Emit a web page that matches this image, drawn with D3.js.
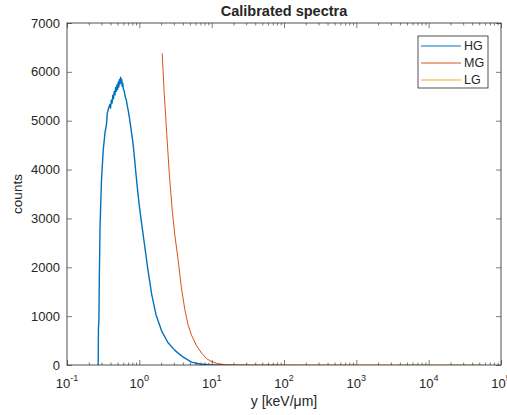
<!DOCTYPE html>
<html lang="en">
<head>
    <meta charset="UTF-8">
    <title>Calibrated spectra</title>
    <script src="https://cdn.jsdelivr.net/npm/d3@7"></script>
    <style>
        body { margin: 0; background: #fff; }
        text { font-family: "Liberation Sans", Arial, sans-serif; fill: #262626; }
    </style>
</head>
<body>
<script>
    // lineal energy (keV/um) and counts per channel
    const hgY = [0.270, 0.272, 0.276, 0.280, 0.286, 0.293, 0.300, 0.317, 0.335, 0.353, 0.360, 0.375,
        0.390, 0.400, 0.410, 0.420, 0.430, 0.440, 0.450, 0.460, 0.470, 0.480, 0.490, 0.500, 0.510,
        0.520, 0.530, 0.540, 0.550, 0.560, 0.570, 0.580, 0.590, 0.600, 0.620, 0.640, 0.660, 0.680,
        0.700, 0.730, 0.760, 0.790, 0.820, 0.850, 0.900, 0.950, 1.00, 1.08, 1.19, 1.30, 1.48, 1.70,
        2.03, 2.48, 3.10, 4.00, 5.27, 6.90, 9.00, 12.0, 15.0]
    const hgCounts = [0, 750, 900, 1800, 2800, 3300, 3800, 4400, 4750, 4950, 5150, 5250,
        5330, 5260, 5420, 5360, 5520, 5450, 5600, 5530, 5680, 5600, 5730, 5640, 5790,
        5690, 5840, 5750, 5890, 5780, 5850, 5700, 5770, 5660, 5600, 5480, 5430, 5310,
        5220, 5060, 4880, 4700, 4520, 4290, 3900, 3560, 3250, 2880, 2420, 2000, 1450, 1030,
        700, 460, 300, 165, 60, 20, 5, 0, 0]

    const mgY = [2.07, 2.20, 2.40, 2.60, 2.85, 3.10, 3.44, 3.80, 4.26, 4.70, 5.27, 6.20, 7.25,
        8.50, 10.0, 12.0, 15.0, 20.0, 30.0, 50.0, 80.0]
    const mgCounts = [6380, 5600, 4700, 3900, 3170, 2650, 2150, 1600, 1130, 830, 610, 390, 245,
        130, 68, 30, 10, 4, 1, 0, 0]

    const lgY = [55, 80, 100, 200, 500, 1000, 3000, 10000, 30000, 56000]
    const lgCounts = [10, 6, 5, 3, 2, 1, 1, 0, 0, 0]

    const series = [
        {name: 'HG', xs: hgY, ys: hgCounts, color: '#0072BD'},
        {name: 'MG', xs: mgY, ys: mgCounts, color: '#D95319'},
        {name: 'LG', xs: lgY, ys: lgCounts, color: '#EDB120'}
    ]

    const xTicks = [-1, 0, 1, 2, 3, 4, 5]   // exponents
    const yTicks = [0, 1000, 2000, 3000, 4000, 5000, 6000, 7000]

    const [width, height] = [507, 415]
    const margin = {top: 23, right: 6, bottom: 50, left: 67}
    const axisColor = '#262626'

    const svg = d3.select('body').append('svg')
        .attr('width', width)
        .attr('height', height)

    const x = d3.scaleLog()
        .domain([0.1, 1e5])
        .range([margin.left, width - margin.right])
    const y = d3.scaleLinear()
        .domain([0, 7000])
        .range([height - margin.bottom, margin.top])

    const [x0, x1] = x.range()
    const [y0, y1] = y.range()

    // curves, clipped to the axes box
    svg.append('clipPath').attr('id', 'plot')
        .append('rect')
        .attr('x', x0).attr('y', y1)
        .attr('width', x1 - x0).attr('height', y0 - y1)

    const line = d3.line()
        .x(d => x(d[0]))
        .y(d => y(d[1]))

    svg.append('g')
        .attr('clip-path', 'url(#plot)')
        .selectAll('path')
        .data(series)
        .enter().append('path')
        .attr('fill', 'none')
        .attr('stroke', d => d.color)
        .attr('stroke-width', d => d.name === 'HG' ? 1.4 : 1)
        .attr('stroke-linejoin', 'round')
        .attr('d', d => line(d.xs.map((v, i) => [v, d.ys[i]])))

    // minor ticks of the log axis
    const minor = []
    for (let e = -1; e < 5; e++) {
        for (let m = 2; m <= 9; m++) minor.push(m * Math.pow(10, e))
    }
    const major = xTicks.map(e => Math.pow(10, e))

    function styleAxis(g) {
        g.select('.domain').remove()
        g.selectAll('line').attr('stroke', axisColor).attr('stroke-width', 0.6)
        g.selectAll('text').remove()
    }

    svg.append('g')
        .attr('transform', `translate(0,${y0})`)
        .call(d3.axisBottom(x).tickValues(major).tickSize(-5).tickFormat(''))
        .call(styleAxis)
    svg.append('g')
        .attr('transform', `translate(0,${y0})`)
        .call(d3.axisBottom(x).tickValues(minor).tickSize(-2.5).tickFormat(''))
        .call(styleAxis)
    svg.append('g')
        .attr('transform', `translate(0,${y1})`)
        .call(d3.axisTop(x).tickValues(major).tickSize(-5).tickFormat(''))
        .call(styleAxis)
    svg.append('g')
        .attr('transform', `translate(0,${y1})`)
        .call(d3.axisTop(x).tickValues(minor).tickSize(-2.5).tickFormat(''))
        .call(styleAxis)

    svg.append('g')
        .attr('transform', `translate(${x0},0)`)
        .call(d3.axisLeft(y).tickValues(yTicks).tickSize(-5).tickFormat(''))
        .call(styleAxis)
    svg.append('g')
        .attr('transform', `translate(${x1},0)`)
        .call(d3.axisRight(y).tickValues(yTicks).tickSize(-5).tickFormat(''))
        .call(styleAxis)

    // box
    svg.append('rect')
        .attr('x', x0).attr('y', y1)
        .attr('width', x1 - x0).attr('height', y0 - y1)
        .attr('fill', 'none')
        .attr('stroke', axisColor)
        .attr('stroke-width', 0.8)

    // y tick labels
    svg.append('g').selectAll('text')
        .data(yTicks)
        .enter().append('text')
        .attr('x', x0 - 7)
        .attr('y', d => y(d))
        .attr('dy', '0.35em')
        .attr('text-anchor', 'end')
        .attr('font-size', 13)
        .text(d => d)

    // x tick labels 10^e
    const xl = svg.append('g').selectAll('text')
        .data(xTicks)
        .enter().append('text')
        .attr('x', d => x(Math.pow(10, d)))
        .attr('y', y0 + 23)
        .attr('text-anchor', 'middle')
        .attr('font-size', 13)
    xl.append('tspan').text('10')
    xl.append('tspan')
        .attr('font-size', 9)
        .attr('dy', -7)
        .text(d => d < 0 ? '-' + Math.abs(d) : d)

    // titles
    svg.append('text')
        .attr('x', (x0 + x1) / 2)
        .attr('y', 16)
        .attr('text-anchor', 'middle')
        .attr('font-size', 14.5)
        .attr('font-weight', 'bold')
        .attr('fill', '#000')
        .text('Calibrated spectra')

    svg.append('text')
        .attr('x', (x0 + x1) / 2)
        .attr('y', 406)
        .attr('text-anchor', 'middle')
        .attr('font-size', 14)
        .text('y [keV/\u03BCm]')

    svg.append('text')
        .attr('transform', `translate(22,${(y0 + y1) / 2}) rotate(-90)`)
        .attr('text-anchor', 'middle')
        .attr('font-size', 13.5)
        .text('counts')

    // legend
    const legend = svg.append('g').attr('transform', 'translate(418,36)')
    legend.append('rect')
        .attr('width', 70).attr('height', 52)
        .attr('fill', '#fff')
        .attr('stroke', axisColor)
        .attr('stroke-width', 0.8)
    const item = legend.selectAll('g.item')
        .data(series)
        .enter().append('g')
        .attr('class', 'item')
        .attr('transform', (d, i) => `translate(0,${10 + i * 17})`)
    item.append('line')
        .attr('x1', 3).attr('x2', 43)
        .attr('stroke', d => d.color)
        .attr('stroke-width', 1)
    item.append('text')
        .attr('x', 46)
        .attr('dy', '0.35em')
        .attr('font-size', 12.5)
        .text(d => d.name)
</script>
</body>
</html>
